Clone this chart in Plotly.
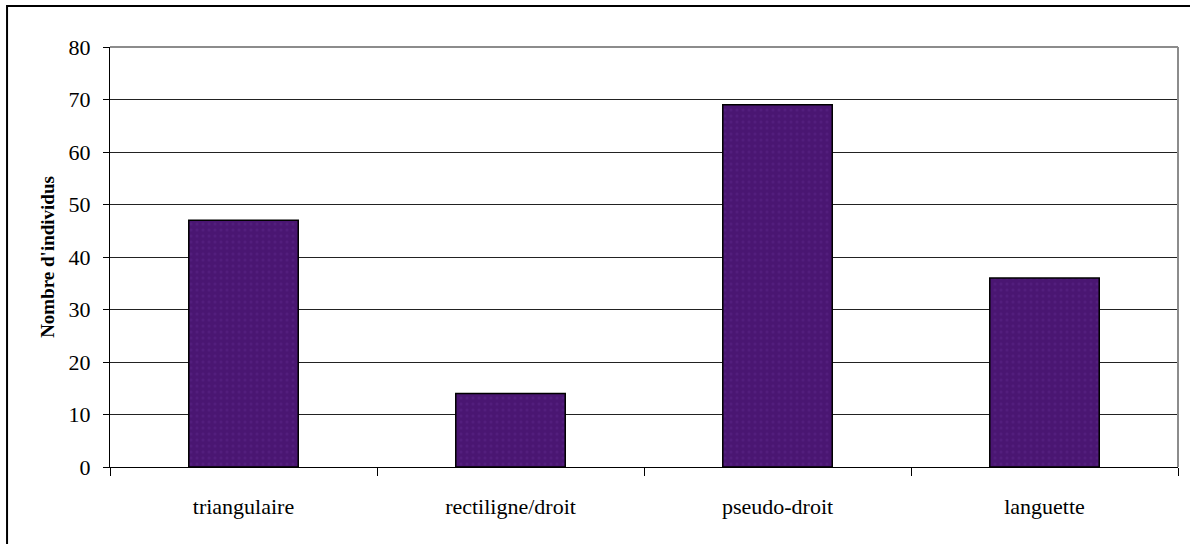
import plotly.graph_objects as go

categories = ["triangulaire", "rectiligne/droit", "pseudo-droit", "languette"]
counts = [47, 14, 69, 36]
y_ticks = [0, 10, 20, 30, 40, 50, 60, 70, 80]

SERIF = "Liberation Serif, Times New Roman, serif"

fig = go.Figure()
fig.add_trace(go.Bar(
    x=categories, y=counts, width=0.41,
    marker=dict(color="#4a1672", line=dict(color="black", width=1.5),
                pattern=dict(shape=".", fgcolor="#5c2688", size=6, solidity=0.2)),
))

fig.update_xaxes(
    type="category", showline=True, linecolor="black", linewidth=1,
    ticks="outside", tickson="boundaries", ticklen=8, tickcolor="black",
    tickfont=dict(family=SERIF, size=22, color="black"),
    ticklabelstandoff=20, showgrid=False,
)
fig.update_yaxes(
    range=[0, 80], tickvals=y_ticks, showline=True, linecolor="black", linewidth=1,
    ticks="outside", ticklen=6, tickcolor="black",
    tickfont=dict(family=SERIF, size=22, color="black"),
    ticklabelstandoff=8,
    showgrid=True, gridcolor="#222222", gridwidth=1, zeroline=False,
    title=dict(text="<b>Nombre d'individus</b>", standoff=8,
               font=dict(family=SERIF, size=19, color="black")),
)
fig.update_layout(
    width=1190, height=544, showlegend=False,
    font=dict(family=SERIF, color="black"),
    margin=dict(l=110, r=12, t=47, b=77),
    paper_bgcolor="white", plot_bgcolor="white",
    shapes=[
        # plot area frame (grey on top and right)
        dict(type="line", xref="paper", yref="paper", x0=0, x1=1, y0=1, y1=1,
             line=dict(color="#8c8c8c", width=2)),
        dict(type="line", xref="paper", yref="paper", x0=1, x1=1, y0=0, y1=1,
             line=dict(color="#8c8c8c", width=2)),
        # outer chart border
        dict(type="rect", xref="paper", yref="paper", x0=-0.0964, x1=1.2,
             y0=-0.3, y1=1.0976, line=dict(color="black", width=2),
             layer="below"),
    ],
)

fig.write_html("out.html", config={"displayModeBar": False},
               post_script="document.body.style.margin='0';")
